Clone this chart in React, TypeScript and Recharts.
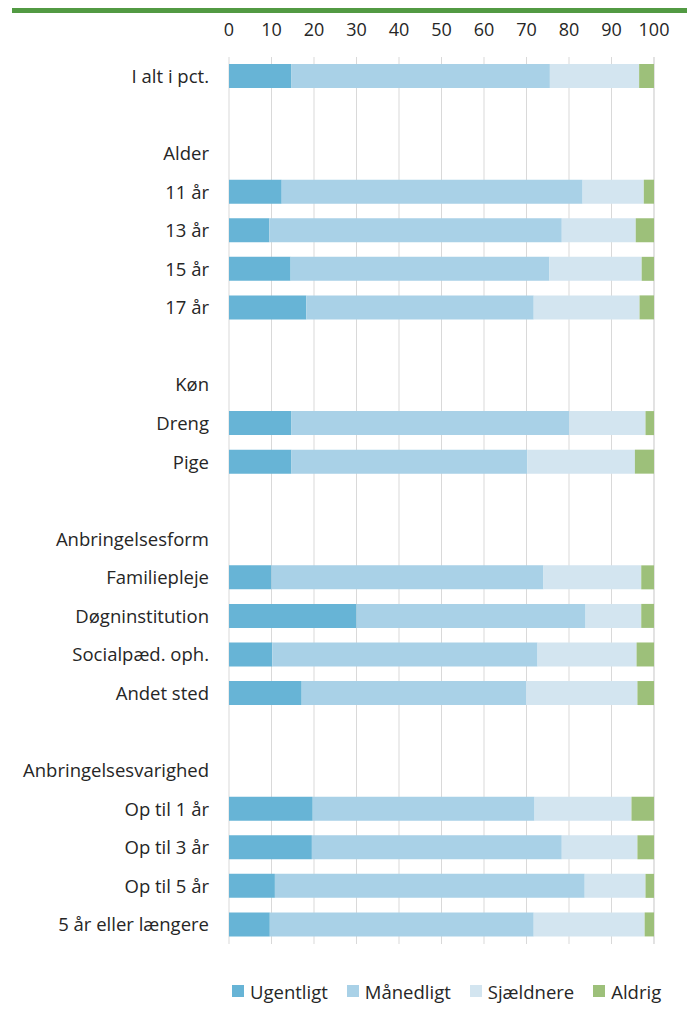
import { BarChart, Bar, XAxis, YAxis, CartesianGrid, Legend } from "recharts";

const categories = [
  "I alt i pct.",
  " ",
  "Alder",
  "11 år",
  "13 år",
  "15 år",
  "17 år",
  "  ",
  "Køn",
  "Dreng",
  "Pige",
  "   ",
  "Anbringelsesform",
  "Familiepleje",
  "Døgninstitution",
  "Socialpæd. oph.",
  "Andet sted",
  "    ",
  "Anbringelsesvarighed",
  "Op til 1 år",
  "Op til 3 år",
  "Op til 5 år",
  "5 år eller længere",
];

// null = header / spacer rows
const ugentligt = [14.7, null, null, 12.4, 9.5, 14.5, 18.2, null, null, 14.7, 14.7, null, null, 10.0, 30.0, 10.2, 17.1, null, null, 19.7, 19.5, 10.8, 9.6];
const maanedligt = [60.8, null, null, 70.8, 68.8, 60.9, 53.5, null, null, 65.4, 55.5, null, null, 64.0, 53.9, 62.4, 52.8, null, null, 52.2, 58.8, 72.9, 62.1];
const sjaeldnere = [21.0, null, null, 14.4, 17.4, 21.7, 24.9, null, null, 17.9, 25.3, null, null, 23.0, 13.1, 23.3, 26.2, null, null, 22.8, 17.8, 14.3, 26.1];
const aldrig = [3.5, null, null, 2.4, 4.3, 2.9, 3.4, null, null, 2.0, 4.5, null, null, 3.0, 3.0, 4.1, 3.9, null, null, 5.3, 3.9, 2.0, 2.2];

const seriesNames = ["Ugentligt", "Månedligt", "Sjældnere", "Aldrig"];
const seriesColors = ["#67B4D6", "#A9D1E7", "#D3E5F0", "#9DC07A"];

const xTicks = [0, 10, 20, 30, 40, 50, 60, 70, 80, 90, 100];

const rows = categories.map((name, i) => ({
  name,
  Ugentligt: ugentligt[i],
  Månedligt: maanedligt[i],
  Sjældnere: sjaeldnere[i],
  Aldrig: aldrig[i],
}));

const font = "'Open Sans', sans-serif";
const textColor = "#262626";

function LegendContent({ payload }: any) {
  const items = [...(payload || [])].sort(
    (a: any, b: any) => seriesNames.indexOf(a.value) - seriesNames.indexOf(b.value)
  );
  return (
    <div style={{ display: "flex", alignItems: "center", height: 24, fontFamily: font, fontSize: 18.5, color: textColor }}>
      {items.map((it: any) => (
        <div key={it.value} style={{ display: "flex", alignItems: "center", marginRight: 19 }}>
          <span style={{ width: 12, height: 12, background: it.color, marginRight: 6, display: "inline-block" }} />
          <span>{it.value}</span>
        </div>
      ))}
    </div>
  );
}

export default function App() {
  return (
    <div style={{ position: "absolute", left: 0, top: 0, width: 687, height: 1012, background: "#fff", fontFamily: font }}>
      <div style={{ position: "absolute", left: 12, top: 8, width: 675, height: 5, background: "#529A43" }} />
      <BarChart
        width={687}
        height={1012}
        data={rows}
        layout="vertical"
        barSize={24}
        margin={{ top: 27, right: 33, bottom: 44, left: 0 }}
      >
        <CartesianGrid horizontal={false} stroke="#d9d9d9" />
        <XAxis
          type="number"
          orientation="top"
          domain={[0, 100]}
          ticks={xTicks}
          height={30}
          axisLine={false}
          tickLine={false}
          tickMargin={15}
          tick={{ fill: textColor, fontSize: 18, fontFamily: font }}
        />
        <YAxis
          type="category"
          dataKey="name"
          width={229}
          axisLine={false}
          tickLine={false}
          tickMargin={14}
          interval={0}
          tick={{ fill: textColor, fontSize: 18.5, fontFamily: font }}
        />
        <Legend
          verticalAlign="bottom"
          content={<LegendContent />}
          wrapperStyle={{ left: 232, top: 979, width: 455, height: 24 }}
        />
        {seriesNames.map((s, i) => (
          <Bar key={s} dataKey={s} stackId="a" fill={seriesColors[i]} isAnimationActive={false} />
        ))}
      </BarChart>
    </div>
  );
}
